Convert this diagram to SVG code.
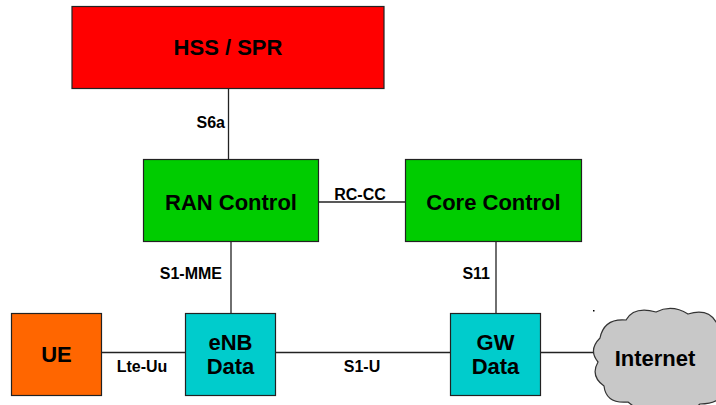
<svg xmlns="http://www.w3.org/2000/svg" width="716" height="405" viewBox="0 0 716 405">
<style>
.box{stroke:#222;stroke-width:1.2}
.t{font-family:"Liberation Sans",Arial,sans-serif;font-weight:bold;font-size:22px;fill:#000;text-anchor:middle}
.l{font-family:"Liberation Sans",Arial,sans-serif;font-weight:bold;font-size:16px;fill:#000}
.c{stroke:#222;stroke-width:1.3;fill:none}
</style>
<rect width="716" height="405" fill="#fff"/>
<g id="connectors">
<line class="c" x1="228.5" y1="88" x2="228.5" y2="159"/>
<line class="c" x1="318" y1="202" x2="405" y2="202"/>
<line class="c" x1="231" y1="242" x2="231" y2="313"/>
<line class="c" x1="496" y1="242" x2="496" y2="313"/>
<line class="c" x1="101" y1="352.5" x2="186" y2="352.5"/>
<line class="c" x1="276" y1="352.5" x2="450" y2="352.5"/>
<line class="c" x1="541" y1="352.5" x2="596" y2="352.5"/>
<text class="l" x="225" y="128" text-anchor="end">S6a</text>
<text class="l" x="360" y="199.5" text-anchor="middle">RC-CC</text>
<text class="l" x="222" y="279" text-anchor="end">S1-MME</text>
<text class="l" x="490" y="279" text-anchor="end">S11</text>
<text class="l" x="142" y="371.5" text-anchor="middle">Lte-Uu</text>
<text class="l" x="362" y="371.5" text-anchor="middle">S1-U</text>
</g>
<g id="hss">
<rect class="box" x="72" y="6.5" width="312" height="82" fill="#ff0000"/>
<text class="t" x="228" y="55">HSS / SPR</text>
</g>
<g id="ran">
<rect class="box" x="143.5" y="159.5" width="175" height="82" fill="#00cc00"/>
<text class="t" x="231" y="209.5">RAN Control</text>
</g>
<g id="core">
<rect class="box" x="405.5" y="159.5" width="176" height="82" fill="#00cc00"/>
<text class="t" x="493.5" y="209.5">Core Control</text>
</g>
<g id="ue">
<rect class="box" x="11.5" y="313.5" width="90" height="82" fill="#ff6600"/>
<text class="t" x="56.5" y="361.5">UE</text>
</g>
<g id="enb">
<rect class="box" x="185.5" y="313.5" width="90" height="82" fill="#00cccc"/>
<text class="t" x="230.5" y="350">eNB</text>
<text class="t" x="230.5" y="374">Data</text>
</g>
<g id="gw">
<rect class="box" x="450.5" y="313.5" width="90" height="82" fill="#00cccc"/>
<text class="t" x="495.5" y="350">GW</text>
<text class="t" x="495.5" y="374">Data</text>
</g>
<g id="internet">
<path d="M600 338 Q604 318 626 320 Q634 306 656 312 Q672 304 688 314 Q708 308 716 322 Q734 330 728 350 Q738 370 722 384 Q726 404 700 404 Q686 416 664 408 Q644 416 628 402 Q606 404 604 386 Q590 376 598 362 Q588 350 600 338 Z" fill="#c8c8c8" stroke="#333" stroke-width="1.2"/>
<text class="t" x="655" y="366">Internet</text>
</g>
<rect x="593" y="310" width="1.5" height="1.5" fill="#000"/>
</svg>
